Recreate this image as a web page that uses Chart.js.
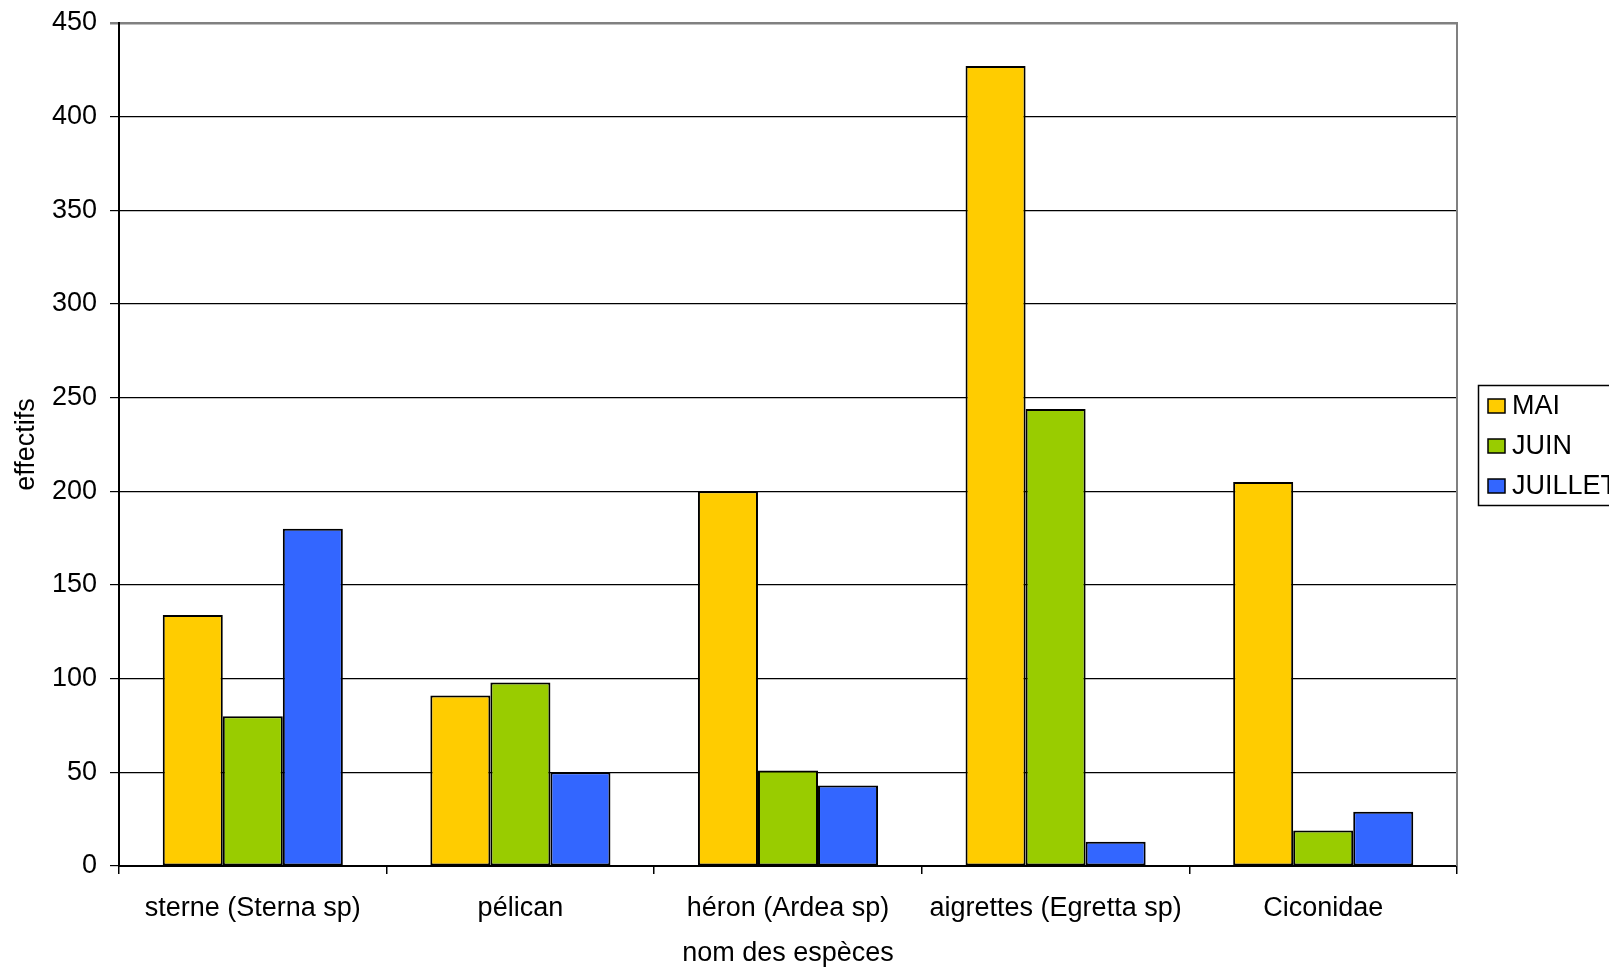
<!DOCTYPE html>
<html>
<head>
<meta charset="utf-8">
<title>Effectifs par espèce</title>
<script src="https://cdn.jsdelivr.net/npm/chart.js@4/dist/chart.umd.min.js"></script>
<style>
  html, body { margin: 0; padding: 0; background: #fff; overflow: hidden; }
  canvas { display: block; }
</style>
</head>
<body>
<canvas id="chart" width="1609" height="969"></canvas>
<script>
// Espèces observées (catégories de l'axe horizontal)
const especes = ['sterne (Sterna sp)', 'pélican', 'héron (Ardea sp)', 'aigrettes (Egretta sp)', 'Ciconidae'];

// Effectifs comptés par mois
const mois = ['MAI', 'JUIN', 'JUILLET'];
const effectifsMai = [134, 91, 200, 427, 205];
const effectifsJuin = [80, 98, 51, 244, 19];
const effectifsJuillet = [180, 50, 43, 13, 29];

// Graduations de l'axe vertical
const axeMin = 0;
const axeMax = 450;
const axePas = 50;

const couleurs = ['#FFCC00', '#99CC00', '#3366FF'];
const series = [effectifsMai, effectifsJuin, effectifsJuillet];

const police = "'Liberation Sans', Arial, sans-serif";
const taille = 27;

// Bordure grise du cadre (côté droit) et légende encadrée
const cadreEtLegende = {
  id: 'cadreEtLegende',
  afterDatasetsDraw(chart) {
    const { ctx, chartArea } = chart;
    ctx.save();
    ctx.strokeStyle = '#808080';
    ctx.lineWidth = 2;
    ctx.beginPath();
    ctx.moveTo(chartArea.right, chartArea.top - 1);
    ctx.lineTo(chartArea.right, chartArea.bottom);
    ctx.stroke();
    ctx.restore();
  },
  afterDraw(chart) {
    const { ctx } = chart;
    const x0 = 1478, y0 = 385, h = 120, w = 170;
    ctx.save();
    ctx.fillStyle = '#fff';
    ctx.fillRect(x0, y0, w, h);
    ctx.strokeStyle = '#000';
    ctx.lineWidth = 1.5;
    ctx.strokeRect(x0 + 0.5, y0 + 0.5, w, h);
    ctx.font = taille + 'px ' + police;
    ctx.textBaseline = 'middle';
    ctx.textAlign = 'left';
    chart.data.datasets.forEach((ds, i) => {
      const cy = 406 + i * 40;
      ctx.fillStyle = ds.backgroundColor;
      ctx.fillRect(1488, cy - 7, 17, 14);
      ctx.strokeStyle = '#000';
      ctx.lineWidth = 1.5;
      ctx.strokeRect(1488, cy - 7, 17, 14);
      ctx.fillStyle = '#000';
      ctx.fillText(ds.label, 1512, cy + 1);
    });
    ctx.restore();
  }
};

new Chart(document.getElementById('chart'), {
  type: 'bar',
  data: {
    labels: especes,
    datasets: mois.map((m, i) => ({
      label: m,
      data: series[i],
      backgroundColor: couleurs[i],
      borderColor: '#000',
      borderWidth: 2,
      borderSkipped: false,
      barPercentage: 1,
      categoryPercentage: 0.673
    }))
  },
  options: {
    responsive: false,
    devicePixelRatio: 1,
    animation: false,
    layout: { padding: { left: 0, right: 152, top: 23, bottom: 0 } },
    plugins: {
      legend: { display: false },
      tooltip: { enabled: false }
    },
    scales: {
      x: {
        offset: true,
        grid: {
          display: true,
          offset: true,
          drawOnChartArea: false,
          drawTicks: true,
          tickLength: 8,
          color: '#000',
          lineWidth: 1.5
        },
        border: { display: true, color: '#000', width: 2 },
        ticks: {
          color: '#000',
          font: { family: police, size: taille },
          padding: 18,
          maxRotation: 0,
          autoSkip: false
        },
        title: {
          display: true,
          text: 'nom des espèces',
          color: '#000',
          font: { family: police, size: taille },
          padding: { top: 0, bottom: -1 }
        },
        afterFit(scale) {
          scale.height = 103;
          scale.paddingLeft = 0;
          scale.paddingRight = 0;
        }
      },
      y: {
        min: axeMin,
        max: axeMax,
        grid: {
          color: (c) => (c.tick && c.tick.value === axeMax ? '#808080' : '#000'),
          lineWidth: (c) => (c.tick && c.tick.value === axeMax ? 2.5 : 1.2),
          drawTicks: true,
          tickLength: 9
        },
        border: { display: true, color: '#000', width: 2 },
        ticks: {
          stepSize: axePas,
          color: '#000',
          font: { family: police, size: taille },
          padding: 13
        },
        title: {
          display: true,
          text: 'effectifs',
          color: '#000',
          font: { family: police, size: taille },
          padding: { top: 10, bottom: 0 }
        },
        afterFit(scale) {
          scale.width = 119;
          scale.paddingTop = 0;
          scale.paddingBottom = 0;
        }
      }
    }
  },
  plugins: [cadreEtLegende]
});
</script>
</body>
</html>
